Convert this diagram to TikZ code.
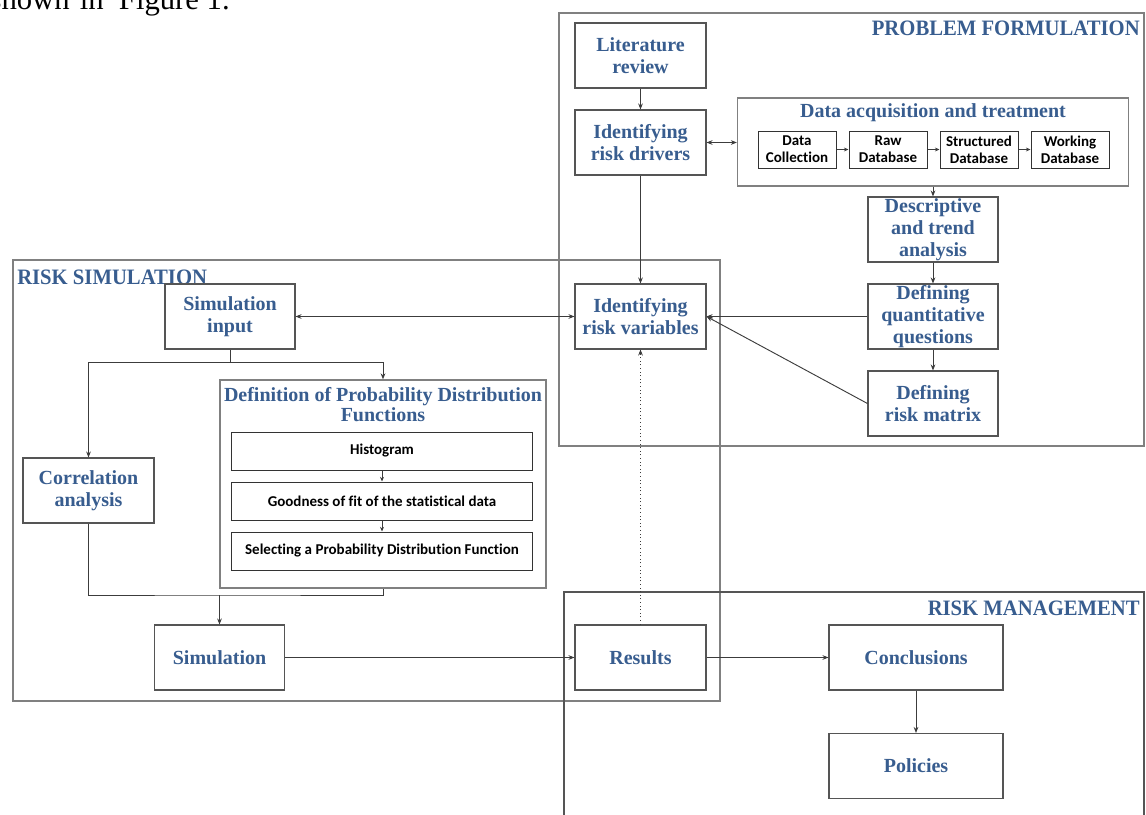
\documentclass[tikz,border=0pt]{standalone}
\usepackage{fontspec}
\setmainfont{Liberation Serif}
\newfontfamily\carl[Ligatures=NoCommon]{Carlito}
\newfontfamily\hdrfont[FakeStretch=0.94]{Liberation Serif}
\usetikzlibrary{arrows.meta}
\definecolor{tblue}{RGB}{56,93,143}
\definecolor{fgray}{RGB}{128,128,128}
\definecolor{bgray}{RGB}{85,85,85}
\definecolor{agray}{RGB}{60,60,60}
\begin{document}
\begin{tikzpicture}[x=0.75pt,y=-0.75pt,
  sz/.style 2 args={minimum width=#1*0.75pt, minimum height=#2*0.75pt},
  box/.style={draw=bgray, line width=0.8pt, fill=white, inner sep=0pt, align=center,
    text=tblue, font=\fontsize{15}{16.5}\selectfont\bfseries},
  obox/.style={draw=fgray, line width=1pt, inner sep=0pt},
  sbox/.style={draw=black!80, line width=0.75pt, fill=white, inner sep=0pt, align=center,
    font=\carl\fontsize{11.25}{13}\selectfont\bfseries},
  frame/.style={draw=fgray, line width=1.1pt},
  hdr/.style={text=tblue, inner sep=0pt, font=\hdrfont\fontsize{16.5}{18}\selectfont\bfseries},
  ttl/.style={text=tblue, inner sep=0pt, align=center, font=\fontsize{15}{15}\selectfont\bfseries},
  arr/.style={draw=agray, line width=0.7pt, -{Stealth[length=4.5pt,width=3.5pt]}},
  darr/.style={draw=agray, line width=0.7pt, {Stealth[length=4.5pt,width=3.5pt]}-{Stealth[length=4.5pt,width=3.5pt]}},
  ln/.style={draw=agray, line width=0.7pt},
  sarr/.style={draw=agray, line width=0.6pt, -{Stealth[length=3.5pt,width=3pt]}}
]
\useasboundingbox (0,0) rectangle (1146,814);
% top clipped text
\node[anchor=base east, inner sep=0pt, font=\fontsize{23}{25}\selectfont] (cap) at (230,9.5) {shown\hspace{0.33em}in\hspace{0.5em}Figure 1.};

% frames
\draw[frame] (559,13) rectangle (1144,446);
\draw[frame] (13,260) rectangle (720,701);
\draw[draw=bgray, line width=1.1pt] (564,830) -- (564,592) -- (1144,592) -- (1144,830);

\node[hdr, anchor=base east] (hpf) at (1140,35.7) {PROBLEM FORMULATION};
\node[hdr, anchor=base west] (hrs) at (17,284) {RISK SIMULATION};
\node[hdr, anchor=base east] (hrm) at (1140,615.7) {RISK MANAGEMENT};

% problem formulation
\node[box, sz={131}{65}] (lit) at (640.5,55.5) {Literature\\review};
\node[box, sz={131}{65}] (drv) at (640.5,142.5) {Identifying\\risk drivers};
\node[box, sz={131}{65}] (var) at (640.5,316.5) {Identifying\\risk variables};

\node[obox, sz={391}{88}] (dat) at (933,142) {};
\node[ttl] (datt) at (933,113) {Data acquisition and treatment};
\node[sbox, sz={78}{37}] (dc) at (797,149.5) {Data\\Collection};
\node[sbox, sz={78}{37}] (raw) at (888,149.5) {Raw\\Database};
\node[sbox, sz={78}{37}] (str) at (979,149.5) {Structured\\Database};
\node[sbox, sz={78}{37}] (wrk) at (1070,149.5) {Working\\Database};

\node[box, sz={130}{65}] (desc) at (933,229.5) {Descriptive\\and trend\\analysis};
\node[box, sz={130}{65}] (qq) at (933,316.5) {Defining\\quantitative\\questions};
\node[box, sz={130}{65}] (rm) at (933,403.5) {Defining\\risk matrix};

% risk simulation
\node[box, sz={130}{65}] (sin) at (230,316.5) {Simulation\\input};
\node[box, sz={131}{65}] (corr) at (88.5,490.5) {Correlation\\analysis};
\node[obox, fill=white, sz={326}{208}] (pdf) at (383,484) {};
\node[ttl] (pdft) at (383,405) {Definition of Probability Distribution\\Functions};
\node[sbox, sz={301}{38}] (hist) at (382,451) {Histogram};
\node[sbox, sz={301}{38}] (gof) at (382,501) {Goodness of fit of the statistical data};
\node[sbox, sz={301}{38}] (sel) at (382,551) {Selecting a Probability Distribution Function};
\node[box, sz={130}{65}] (sim) at (219.5,657.5) {Simulation};
\node[box, sz={131}{65}] (res) at (640.5,657.5) {Results};

% risk management
\node[box, sz={174}{65}] (conc) at (916,657.5) {Conclusions};
\node[box, sz={174}{65}] (pol) at (916,766) {Policies};

% connectors
\draw[arr] (lit) -- (drv);
\draw[darr] (drv.east) -- (drv.east -| dat.west);
\draw[sarr] (dc) -- (raw);
\draw[sarr] (raw) -- (str);
\draw[sarr] (str) -- (wrk);
\draw[arr] (dat.south -| desc.north) -- (desc.north);
\draw[arr] (desc) -- (qq);
\draw[arr] (qq) -- (rm);
\draw[arr] (drv) -- (var);
\draw[arr] (qq.west) -- (var.east);
\draw[arr] (rm.west) -- (var.east);
\draw[arr, dotted] (res.north) -- (var.south);
\draw[darr] (sin.east) -- (var.west);

\coordinate (br) at (230,362);
\draw[ln] (sin.south) -- (br);
\draw[arr] (br) -| (corr.north);
\draw[arr] (br) -| (pdf.north);
\draw[sarr] (hist) -- (gof);
\draw[sarr] (gof) -- (sel);
\coordinate (jn) at (219.5,595);
\draw[ln] (corr.south) |- (jn) -| (pdf.south);
\draw[arr] (jn) -- (sim.north);
\draw[arr] (sim) -- (res);
\draw[arr] (res) -- (conc);
\draw[arr] (conc) -- (pol);
\end{tikzpicture}
\end{document}
